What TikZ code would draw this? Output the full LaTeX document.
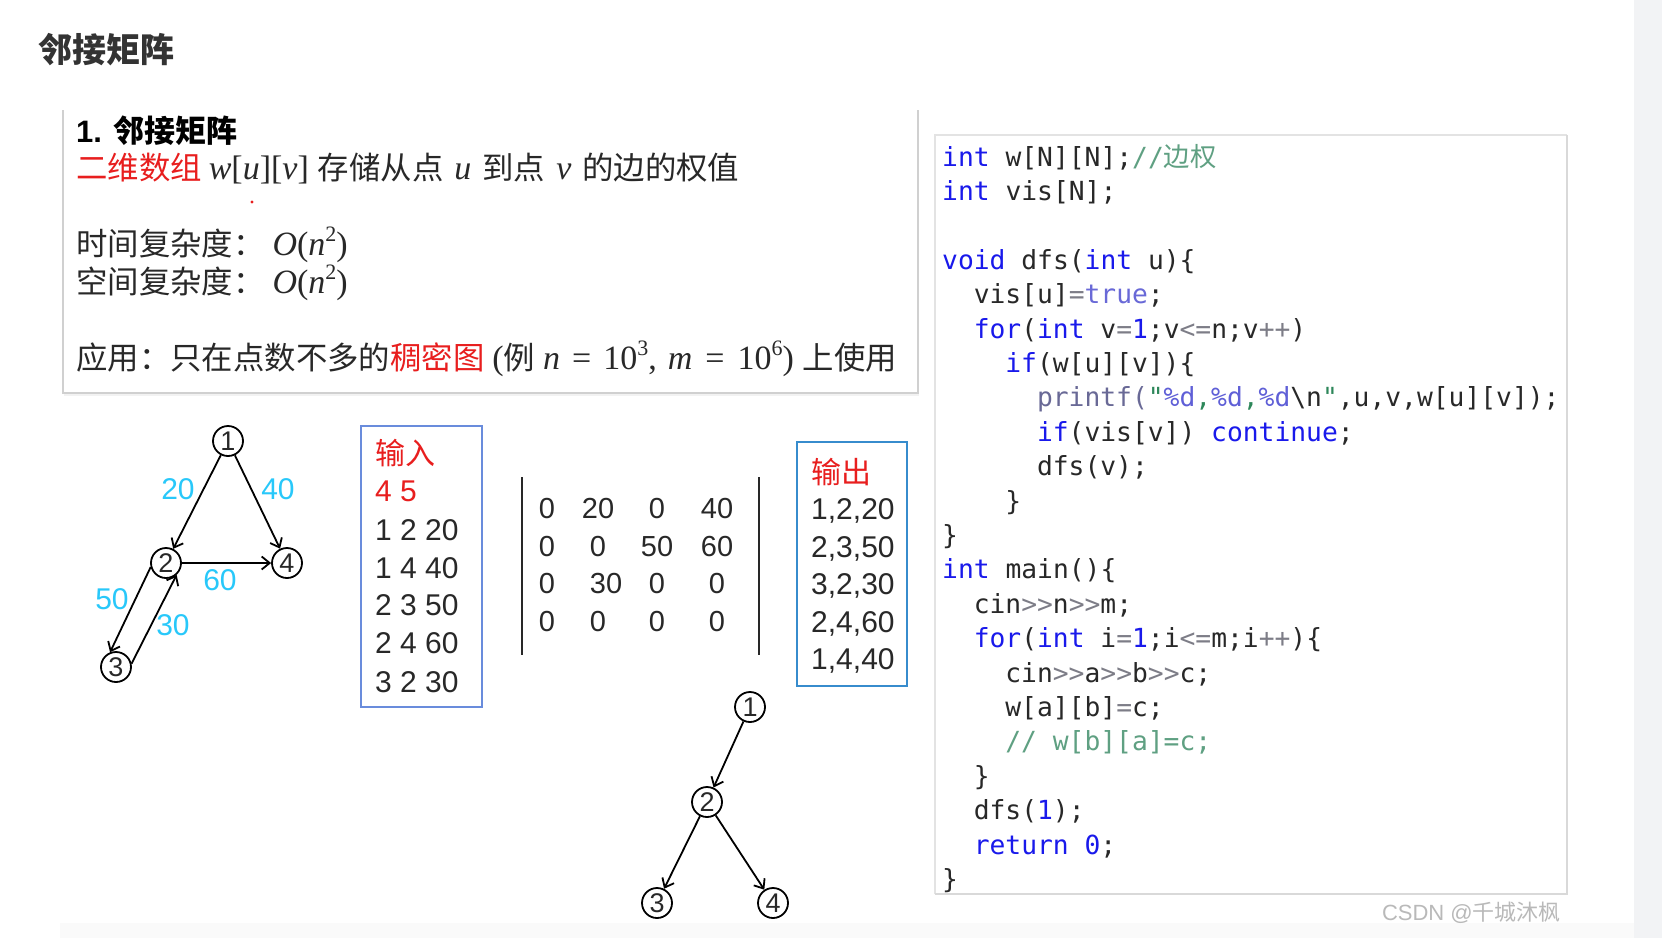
\RequirePackage{fix-cm}
\documentclass[tikz,border=0pt]{standalone}
\usepackage[no-math]{fontspec}
\setmainfont{Liberation Sans}
\setmonofont{DejaVu Sans Mono}
\newfontfamily\cjk{Noto Sans CJK SC}
\newfontfamily\serf{Liberation Serif}
\usetikzlibrary{arrows.meta}
\definecolor{kwblue}{RGB}{25,25,235}
\definecolor{opgray}{RGB}{125,125,135}
\definecolor{truec}{RGB}{105,105,215}
\definecolor{fnc}{RGB}{105,105,150}
\definecolor{strc}{RGB}{45,135,90}
\definecolor{fmtc}{RGB}{95,95,215}
\definecolor{cmtc}{RGB}{95,160,130}
\definecolor{codetxt}{RGB}{40,40,40}
\definecolor{redtxt}{RGB}{232,30,30}
\definecolor{wcyan}{RGB}{40,200,250}
\definecolor{inblue}{RGB}{105,140,220}
\definecolor{outblue}{RGB}{55,140,205}
\definecolor{boxgray}{RGB}{208,208,208}
\definecolor{txtdark}{RGB}{40,40,40}
\definecolor{titlec}{RGB}{51,51,51}
\definecolor{stripc}{RGB}{242,243,245}
\newcommand\ckw[1]{\textcolor{kwblue}{#1}}
\newcommand\cop[1]{\textcolor{opgray}{#1}}
\newcommand\ctrue[1]{\textcolor{truec}{#1}}
\newcommand\cfn[1]{\textcolor{fnc}{#1}}
\newcommand\cstr[1]{\textcolor{strc}{#1}}
\newcommand\cfmt[1]{\textcolor{fmtc}{#1}}
\newcommand\ccm[1]{\textcolor{cmtc}{#1}}
\newcommand\cnum[1]{\textcolor{kwblue}{#1}}
\newcommand\mi[1]{{\serf\itshape\fontsize{34}{40}\selectfont #1}}
\newcommand\ms[1]{{\serf\fontsize{34}{40}\selectfont #1}}
\newcommand\sups[1]{\raisebox{14pt}{\serf\fontsize{22}{22}\selectfont #1}}
\begin{document}
\begin{tikzpicture}[x=1pt,y=-1pt,
  gnode/.style={circle, draw, line width=1.8pt, minimum size=30pt, inner sep=0pt,
    font=\fontsize{27}{27}\selectfont, text=txtdark},
  garrow/.style={-{Straight Barb[length=8pt,width=13pt,line width=1.8pt]}, line width=1.8pt},
  wlabel/.style={text=wcyan, inner sep=0pt, font=\fontsize{30}{30}\selectfont},
  txt/.style={anchor=base west, inner sep=0pt, text=txtdark, font=\cjk\fontsize{31.4}{36}\selectfont},
  listtxt/.style={anchor=base west, inner sep=0pt, text=txtdark, font=\fontsize{30}{36}\selectfont},
  mnum/.style={inner sep=0pt, text=txtdark, font=\fontsize{29}{29}\selectfont},
  code/.style={anchor=base west, inner sep=0pt, text=codetxt, font=\ttfamily\fontsize{26.3}{30}\selectfont},
]
\useasboundingbox (0,0) rectangle (1662,938);
\fill[white] (0,0) rectangle (1662,938);
\fill[stripc] (1634,0) rectangle (1662,938);
\fill[gray!4] (60,923) rectangle (1634,938);

% title
\node[anchor=base west, inner sep=0pt, text=titlec, font=\cjk\bfseries\fontsize{34}{40}\selectfont] (title) at (38,62) {邻接矩阵};

% left box
\draw[boxgray, line width=1.5pt] (63,110) -- (63,393) -- (918,393) -- (918,110);
\draw[gray!10, line width=1.5pt] (64,395) -- (919,395);
\node[txt, font=\bfseries\fontsize{31}{36}\selectfont, text=black] (h1) at (76,142) {1. {\cjk\bfseries 邻接矩阵}};
\node[txt] (l2) at (76,179) {\textcolor{redtxt}{二维数组}\hspace{7pt}\mi{w}\ms{[}\mi{u}\ms{][}\mi{v}\ms{]}\hspace{9pt}存储从点\hspace{11pt}\mi{u}\hspace{11pt}到点\hspace{11pt}\mi{v}\hspace{11pt}的边的权值};
\fill[redtxt] (252,202) circle (1.6);
\node[txt] (l3) at (76,255) {时间复杂度：\hspace{8pt}\mi{O}\ms{(}\mi{n}\sups{2}\ms{)}};
\node[txt] (l4) at (76,293) {空间复杂度：\hspace{8pt}\mi{O}\ms{(}\mi{n}\sups{2}\ms{)}};
\node[txt] (l5) at (76,369) {应用：只在点数不多的\textcolor{redtxt}{稠密图}\hspace{8pt}\ms{(}例\hspace{8pt}\mi{n}\hspace{12pt}\ms{=}\hspace{12pt}\ms{10}\sups{3}\ms{,}\hspace{11pt}\mi{m}\hspace{13pt}\ms{=}\hspace{13pt}\ms{10}\sups{6}\ms{)}\hspace{9pt}上使用};

% graph 1
\node[gnode] (a1) at (228,441) {1};
\node[gnode] (a2) at (166,563) {2};
\node[gnode] (a4) at (287,563) {4};
\node[gnode] (a3) at (116,667) {3};
\draw[garrow] (a1) -- (a2);
\draw[garrow] (a1) -- (a4);
\draw[garrow] (a2) -- (a4);
\draw[garrow] (a2.195) -- (a3.112);
\draw[garrow] (a3.12) -- (a2.-48);
\node[wlabel] (w20) at (178,489) {20};
\node[wlabel] (w40) at (278,489) {40};
\node[wlabel] (w60) at (220,580) {60};
\node[wlabel] (w50) at (112,599) {50};
\node[wlabel] (w30) at (173,625) {30};

% input box
\draw[inblue, line width=2pt] (361,426) rectangle (482,707);
\node[listtxt, text=redtxt] (in0) at (375,464) {\cjk 输入};
\node[listtxt, text=redtxt] (in1) at (375,501) {4 5};
\node[listtxt] (in2) at (375,540) {1 2 20};
\node[listtxt] (in3) at (375,578) {1 4 40};
\node[listtxt] (in4) at (375,615) {2 3 50};
\node[listtxt] (in5) at (375,653) {2 4 60};
\node[listtxt] (in6) at (375,692) {3 2 30};

% matrix
\draw[txtdark, line width=2pt] (522,477) -- (522,655);
\draw[txtdark, line width=2pt] (759,477) -- (759,655);
\node[mnum] (m11) at (547,509) {0};
\node[mnum] (m12) at (598,509) {20};
\node[mnum] (m13) at (657,509) {0};
\node[mnum] (m14) at (717,509) {40};
\node[mnum] (m21) at (547,547) {0};
\node[mnum] (m22) at (598,547) {0};
\node[mnum] (m23) at (657,547) {50};
\node[mnum] (m24) at (717,547) {60};
\node[mnum] (m31) at (547,584) {0};
\node[mnum] (m32) at (606,584) {30};
\node[mnum] (m33) at (657,584) {0};
\node[mnum] (m34) at (717,584) {0};
\node[mnum] (m41) at (547,622) {0};
\node[mnum] (m42) at (598,622) {0};
\node[mnum] (m43) at (657,622) {0};
\node[mnum] (m44) at (717,622) {0};

% output box
\draw[outblue, line width=2pt] (797,442) rectangle (907,686);
\node[listtxt, text=redtxt] (out0) at (811,483) {\cjk 输出};
\node[listtxt] (out1) at (811,519) {1,2,20};
\node[listtxt] (out2) at (811,557) {2,3,50};
\node[listtxt] (out3) at (811,594) {3,2,30};
\node[listtxt] (out4) at (811,632) {2,4,60};
\node[listtxt] (out5) at (811,669) {1,4,40};

% tree
\node[gnode] (t1) at (750,707) {1};
\node[gnode] (t2) at (707,802) {2};
\node[gnode] (t3) at (657,903) {3};
\node[gnode] (t4) at (773,903) {4};
\draw[garrow] (t1) -- (t2);
\draw[garrow] (t2) -- (t3);
\draw[garrow] (t2) -- (t4);

% code box
\draw[gray!22, line width=1.5pt] (935,894) -- (935,135) -- (1567,135);
\draw[gray!30, line width=2pt] (1567,135) -- (1567,894) -- (935,894);
\node[code] (c0) at (942,166) {\ckw{int} w[N][N];\ccm{//{\cjk 边权}}};
\node[code] (c1) at (942,200.4) {\ckw{int} vis[N];};
\node[code] (c3) at (942,269.2) {\ckw{void} dfs(\ckw{int} u)\{};
\node[code] (c4) at (973.6,303.6) {vis[u]\cop{=}\ctrue{true};};
\node[code] (c5) at (973.6,338) {\ckw{for}(\ckw{int} v\cop{=}\cnum{1};v\cop{<=}n;v\cop{++})};
\node[code] (c6) at (1005.2,372.4) {\ckw{if}(w[u][v])\{};
\node[code] (c7) at (1036.8,406.8) {\cfn{printf(}\cstr{"}\cfmt{\%d}\cstr{,}\cfmt{\%d}\cstr{,}\cfmt{\%d}\textbackslash n\cstr{"},u,v,w[u][v]);};
\node[code] (c8) at (1036.8,441.2) {\ckw{if}(vis[v]) \ckw{continue};};
\node[code] (c9) at (1036.8,475.6) {dfs(v);};
\node[code] (c10) at (1005.2,510) {\}};
\node[code] (c11) at (942,544.4) {\}};
\node[code] (c12) at (942,578.8) {\ckw{int} main()\{};
\node[code] (c13) at (973.6,613.2) {cin\cop{>>}n\cop{>>}m;};
\node[code] (c14) at (973.6,647.6) {\ckw{for}(\ckw{int} i\cop{=}\cnum{1};i\cop{<=}m;i\cop{++})\{};
\node[code] (c15) at (1005.2,682) {cin\cop{>>}a\cop{>>}b\cop{>>}c;};
\node[code] (c16) at (1005.2,716.4) {w[a][b]\cop{=}c;};
\node[code] (c17) at (1005.2,750.8) {\ccm{// w[b][a]=c;}};
\node[code] (c18) at (973.6,785.2) {\}};
\node[code] (c19) at (973.6,819.6) {dfs(\cnum{1});};
\node[code] (c20) at (973.6,854) {\ckw{return} \cnum{0};};
\node[code] (c21) at (942,888.4) {\}};

% watermark
\node[anchor=base east, inner sep=0pt, text=gray!55, font=\fontsize{22}{22}\selectfont] (wm) at (1561,920) {CSDN @{\cjk 千城沐枫}};
\end{tikzpicture}
\end{document}
